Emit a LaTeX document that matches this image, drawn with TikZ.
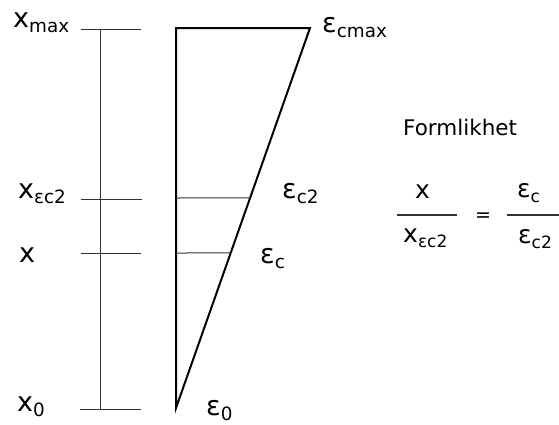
\documentclass[tikz,border=0pt]{standalone}
\usepackage{fontspec}
\setmainfont{DejaVu Sans}
\usepackage{xcolor}
\definecolor{linegrey}{RGB}{50, 50, 50}
\usepackage{tikz}
\usetikzlibrary{calc}

% lowered, smaller subscript in text
\newcommand{\lo}[1]{\raisebox{-0.22em}{\scalebox{0.68}{#1}}}

\tikzset{
  tick/.style={linegrey, line width=1pt},
  wedge/.style={black, line width=2pt, line join=miter},
  lbl/.style={font=\fontsize{27}{30}\selectfont, anchor=base west, inner sep=0pt},
  fraclbl/.style={font=\fontsize{25}{28}\selectfont, anchor=base west, inner sep=0pt}
}

\begin{document}
\begin{tikzpicture}[x=1pt, y=-1pt]
  \useasboundingbox (0,0) rectangle (559,424);

  % ---------- height axis ----------
  \coordinate (ttop) at (100,29);
  \coordinate (tbot) at (100,409);
  \draw[tick] (ttop) -- (tbot);

  \coordinate (tmaxL) at (81,29);  \coordinate (tmaxR) at (141,29);
  \coordinate (tc2L) at (81,199);  \coordinate (tc2R) at (142,199);
  \coordinate (txL) at (81,253);   \coordinate (txR) at (141,253);
  \coordinate (t0L) at (80,409);   \coordinate (t0R) at (141,409);
  \draw[tick] (tmaxL) -- (tmaxR);
  \draw[tick] (tc2L) -- (tc2R);
  \draw[tick] (txL) -- (txR);
  \draw[tick] (t0L) -- (t0R);

  \node[lbl] (xmax) at (13,27) {x\lo{max}};
  \node[lbl] (xc2) at (18,198) {x\lo{εc2}};
  \node[lbl] (xx) at (19,262) {x};
  \node[lbl] (x0) at (17,411) {x\lo{0}};

  % ---------- strain triangle ----------
  \coordinate (A) at (176,28);
  \coordinate (B) at (310,28);
  \coordinate (C) at (176,408);
  \draw[wedge] (C) -- (A) -- (B) -- cycle;

  % strain levels
  \coordinate (ec2L) at (176,198);
  \coordinate (ec2R) at ($(B)!0.447!(C)$);
  \coordinate (ecL) at (176,253);
  \coordinate (ecR) at ($(B)!0.592!(C)$);
  \draw[tick] (ec2L) -- (ec2R);
  \draw[tick] (ecL) -- (ecR);

  \node[lbl] (ecmax) at (322,32) {ε\lo{cmax}};
  \node[lbl] (ec2) at (282,198) {ε\lo{c2}};
  \node[lbl] (ec) at (260,263) {ε\lo{c}};
  \node[lbl] (e0) at (206,415) {ε\lo{0}};

  % ---------- similarity ----------
  \node[font=\fontsize{21.5}{24}\selectfont, anchor=base west, inner sep=0pt] (form) at (403,135) {Formlikhet};

  \coordinate (barlL) at (397,215); \coordinate (barlR) at (457,215);
  \coordinate (barrL) at (507,215); \coordinate (barrR) at (559,215);
  \draw[tick, line width=1.2pt] (barlL) -- (barlR);
  \draw[tick, line width=1.2pt] (barrL) -- (barrR);

  \node[fraclbl] (num1) at (415,198) {x};
  \node[fraclbl] (den1) at (403,242) {x\lo{εc2}};
  \node[font=\fontsize{19}{20}\selectfont, anchor=base, inner sep=0pt] (eq) at (483,221) {=};
  \node[fraclbl] (num2) at (517,197) {ε\lo{c}};
  \node[fraclbl] (den2) at (518,243) {ε\lo{c2}};

\end{tikzpicture}
\end{document}
